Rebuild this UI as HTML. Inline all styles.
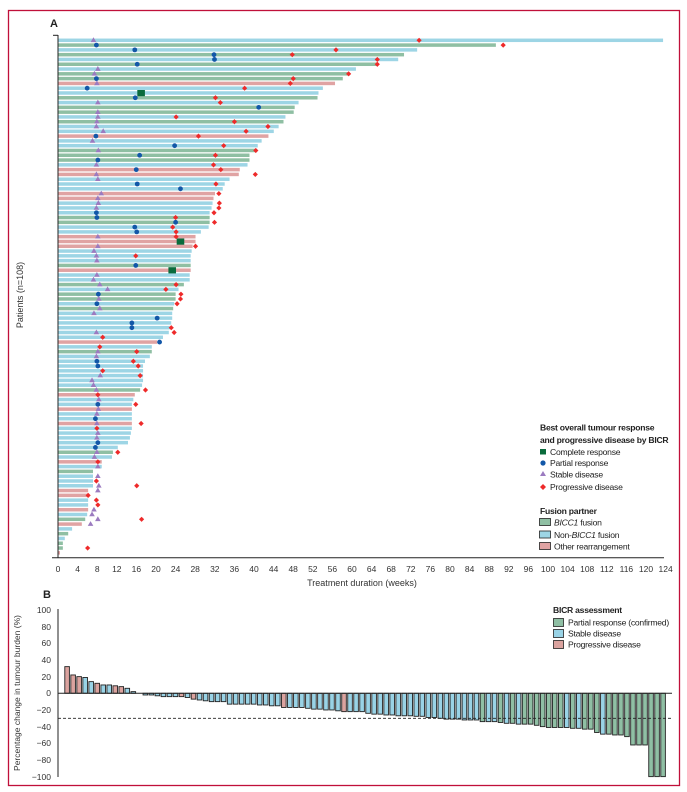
<!DOCTYPE html>
<html><head><meta charset="utf-8"><style>
html,body{margin:0;padding:0;background:#fff;}
svg{display:block;font-family:"Liberation Sans",sans-serif;}
</style></head><body>
<svg id="s" width="687" height="792" viewBox="0 0 687 792" xmlns="http://www.w3.org/2000/svg">
<rect x="8.5" y="10.5" width="671" height="775" fill="none" stroke="#c0103a" stroke-width="1.3"/>
<text x="50" y="27" font-size="11" font-weight="bold" fill="#222">A</text>
<text x="43" y="598" font-size="11" font-weight="bold" fill="#222">B</text>
<g id="A"></g>
<line x1="58" y1="35" x2="58" y2="558" stroke="#222" stroke-width="1"/>
<line x1="53" y1="35.3" x2="58" y2="35.3" stroke="#222" stroke-width="1"/>
<line x1="52" y1="557.7" x2="664" y2="557.7" stroke="#222" stroke-width="1"/>
<g id="xt" font-size="8.5" fill="#333" text-anchor="middle">
<text x="58" y="572">0</text><text x="77.6" y="572">4</text><text x="97.2" y="572">8</text><text x="116.8" y="572">12</text><text x="136.4" y="572">16</text><text x="156" y="572">20</text><text x="175.6" y="572">24</text><text x="195.2" y="572">28</text><text x="214.8" y="572">32</text><text x="234.4" y="572">36</text><text x="254" y="572">40</text><text x="273.6" y="572">44</text><text x="293.2" y="572">48</text><text x="312.8" y="572">52</text><text x="332.4" y="572">56</text><text x="352" y="572">60</text><text x="371.6" y="572">64</text><text x="391.2" y="572">68</text><text x="410.8" y="572">72</text><text x="430.4" y="572">76</text><text x="450" y="572">80</text><text x="469.6" y="572">84</text><text x="489.2" y="572">88</text><text x="508.8" y="572">92</text><text x="528.4" y="572">96</text><text x="548" y="572">100</text><text x="567.6" y="572">104</text><text x="587.2" y="572">108</text><text x="606.8" y="572">112</text><text x="626.4" y="572">116</text><text x="646" y="572">120</text><text x="665.6" y="572">124</text>
</g>
<text x="362" y="586" font-size="9" fill="#333" text-anchor="middle">Treatment duration (weeks)</text>
<text transform="translate(23,295) rotate(-90)" font-size="9" fill="#333" text-anchor="middle">Patients (n=108)</text>

<g font-size="8.6" fill="#222" letter-spacing="-0.25">
<text x="540" y="430.5" font-weight="bold">Best overall tumour response</text>
<text x="540" y="443" font-weight="bold">and progressive disease by BICR</text>
<rect x="540" y="449" width="6" height="5.5" fill="#0a6b3c"/>
<text x="550" y="455">Complete response</text>
<circle cx="543" cy="463" r="2.6" fill="#1257a8"/>
<text x="550" y="466">Partial response</text>
<polygon points="543,471 546,476 540,476" fill="#9b7bc0"/>
<text x="550" y="477.5">Stable disease</text>
<polygon points="543,484 546,487 543,490 540,487" fill="#ee2a2a"/>
<text x="550" y="490">Progressive disease</text>
<text x="540" y="514" font-weight="bold">Fusion partner</text>
<rect x="539.5" y="518.5" width="11" height="7" fill="#8fbfa3" stroke="#222" stroke-width="0.8"/>
<text x="554" y="525.5"><tspan font-style="italic">BICC1</tspan> fusion</text>
<rect x="539.5" y="531" width="11" height="7" fill="#9dd5e5" stroke="#222" stroke-width="0.8"/>
<text x="554" y="538">Non-<tspan font-style="italic">BICC1</tspan> fusion</text>
<rect x="539.5" y="542.5" width="11" height="7" fill="#e0a3a3" stroke="#222" stroke-width="0.8"/>
<text x="554" y="549.5">Other rearrangement</text>
</g>

<g id="B"></g>
<line x1="58" y1="609" x2="58" y2="777" stroke="#222" stroke-width="1"/>
<line x1="58" y1="693.3" x2="672" y2="693.3" stroke="#222" stroke-width="1"/>
<line x1="58" y1="718.3" x2="672" y2="718.3" stroke="#222" stroke-width="0.9" stroke-dasharray="3,2"/>
<g font-size="8.5" fill="#333" text-anchor="end">
<text x="51" y="613">100</text><text x="51" y="630">80</text><text x="51" y="646">60</text><text x="51" y="663">40</text><text x="51" y="680">20</text><text x="51" y="696">0</text><text x="51" y="713">−20</text><text x="51" y="730">−40</text><text x="51" y="746">−60</text><text x="51" y="763">−80</text><text x="51" y="780">−100</text>
</g>
<text transform="translate(20,693) rotate(-90)" font-size="8.5" fill="#333" text-anchor="middle">Percentage change in tumour burden (%)</text>
<g font-size="8.6" fill="#222" letter-spacing="-0.25">
<text x="553" y="613" font-weight="bold">BICR assessment</text>
<rect x="553.5" y="618.5" width="10" height="8" fill="#8fbfa4" stroke="#222" stroke-width="0.8"/>
<text x="568" y="625.5">Partial response (confirmed)</text>
<rect x="553.5" y="629.5" width="10" height="8" fill="#99d3e6" stroke="#222" stroke-width="0.8"/>
<text x="568" y="636.5">Stable disease</text>
<rect x="553.5" y="640.5" width="10" height="8" fill="#dba39f" stroke="#222" stroke-width="0.8"/>
<text x="568" y="647.5">Progressive disease</text>
</g>
</svg>
<script>
(function(){
var NS="http://www.w3.org/2000/svg";
function el(p,t,a){var e=document.createElementNS(NS,t);for(var k in a)e.setAttribute(k,a[k]);p.appendChild(e);return e;}
var C={g:"#8fbfa3",b:"#9dd5e5",r:"#e0a3a3"};
var rows=[
"b 124.5 t7.3 d74.3","g 90.1 c7.9 d91.6","b 73.9 c15.8 d57.2","g 71.2 c32.1 d48.2","b 70 c32.2 d65.7",
"g 65.7 c16.3 d65.7","b 61.3 t8.2","g 59.8 t7.5 d59.8","g 58.6 c7.9 d48.4","r 57 t8 d47.8",
"b 54.5 c6 d38.4","b 53.6 s17.1","g 53.4 c15.9 d32.4","b 49.5 t8.2 d33.4","g 48.7 c41.3",
"g 48.5 t8.2","b 46.8 t8.2 d24.3","g 46.4 t8 d36.3","b 45.4 t7.9 d43.2","b 44.4 t9.3 d38.7",
"r 43.3 c7.8 d28.9","b 41.9 t7.1","b 41.1 c24 d34.1","g 40.7 t8.3 d40.7","g 39.4 c16.8 d32.4",
"g 39.4 c8.2","b 39 t7.9 d32","r 37.4 c16.1 d33.5","r 37.2 t7.9 d40.6","b 35.3 t8.2",
"b 34.3 c16.3 d32.5","b 33.9 c25.2","r 32.3 t8.9 d33.1","r 32 t8.2","b 31.8 t8.3 d33.2",
"b 31.6 t7.9 d33.1","b 31.2 c7.9 d32.1","g 31.2 c8 d24.2","g 31.2 c24.2 d32.2","b 31 c15.8 d23.6",
"b 29.4 c16.2 d24.3","r 28.3 t8.2 d24.3","r 28.3 s25.2","r 27.7 t8.2 d28.3","b 27.5 t7.4",
"b 27.3 t7.9 d16","b 27.3 t8","g 27.3 c16","r 27.3 s23.5","b 27.1 t8",
"b 27.1 t7.3","g 25.9 t8.6 d24.3","b 24.8 t10.2 d22.2","g 24.2 c8.3 d25.3","g 24.2 t8.4 d25.2",
"b 23.9 c8 d24.5","g 23.7 t8.6","b 23.5 t7.4","b 23.5 c20.4","b 23.3 c15.2",
"b 23 c15.2 d23.3","b 22.8 t7.9 d23.9","b 21.6 d9.2","r 20.4 c20.9","b 19.3 d8.6",
"g 19.3 t8.2 d16.2","b 18.9 t7.9","b 17.9 c8 d15.5","b 17.5 c8.2 d16.5","b 17.5 d9.2",
"b 17.5 t8.7 d16.9","b 17.5 t7","b 17.3 t7.3","g 16.9 t7.9 d18","r 15.8 d8.2",
"b 15.5 t8.4","b 15.2 c8.2 d16","r 15.2 t8.3","b 15.2 t8","b 15.2 c7.7",
"r 15.2 t8 d17.1","b 15.2 d8","b 15 t8.2","b 14.8 t8","b 14.4 c8.2",
"b 12.3 c7.7","g 11.3 t8 d12.3","b 11.1 t7.5","r 9 d8.2","b 9 t8.2",
"g 7.2","b 7.2 t8.2","b 7.2 d7.9","b 7.2 t8.4 d16.2","r 6.2 t8.2",
"r 6.2 d6.2","b 6.2 d7.9","b 6.2 d8.2","r 6.2 t7.4","b 6 t7",
"g 5.6 t8.2 d17.2","r 4.9 t6.7","b 2.9","g 2.1","b 1.4",
"g 1","g 1 d6.1","r 0.4"];
var A=document.getElementById("A"),S=4.86,X0=58;
var marks=[];
rows.forEach(function(r,k){
 var p=r.split(" "),y=40.3+4.79*k;
 el(A,"rect",{x:X0,y:y-1.75,width:parseFloat(p[1])*S,height:3.5,fill:C[p[0]]});
 for(var i=2;i<p.length;i++)marks.push([p[i][0],X0+parseFloat(p[i].slice(1))*S,y]);
});
marks.forEach(function(m){
 var t=m[0],x=m[1],y=m[2];
 if(t=="c")el(A,"circle",{cx:x,cy:y,r:2.4,fill:"#1257a8"});
 else if(t=="t")el(A,"polygon",{points:x+","+(y-3)+" "+(x+2.8)+","+(y+1.8)+" "+(x-2.8)+","+(y+1.8),fill:"#9b7bc0"});
 else if(t=="d")el(A,"polygon",{points:x+","+(y-2.6)+" "+(x+2.6)+","+y+" "+x+","+(y+2.6)+" "+(x-2.6)+","+y,fill:"#ee2a2a"});
 else if(t=="s")el(A,"rect",{x:x-3.8,y:y-3,width:7.6,height:6.2,fill:"#0a6b3c"});
});
var BC={g:"#8fbfa4",b:"#99d3e6",r:"#dba39f"};
var bd="r32 r22 r20 b19 b14 r12 b10 b10 r9 r8 b6 b2 x0 b-2 b-2 b-3 b-4 b-4 b-4 r-4 b-5 r-7 b-8 b-9 b-10 b-10 b-10 b-13 b-13 b-13 b-13 b-13 b-14 b-14 b-15 b-15 r-17 b-17 b-17 b-17 b-18 b-19 b-19 b-20 b-20 b-21 r-22 b-22 b-22 b-22 b-24 b-25 b-25 b-26 b-26 b-27 b-27 b-27 b-27.6 b-27.6 b-29 b-29 b-30 b-31 b-31 b-31 b-32 b-32 b-32 g-34 b-34 b-34 g-35 b-36 g-36 b-37 g-37 g-37 g-38.4 g-40 g-41 g-41 g-41 b-41 g-42 b-42 g-43 g-43 g-47 b-49 g-49 g-50 g-50 g-52 g-62 g-62 g-62 g-100 g-100 g-100".split(" ");
var B=document.getElementById("B"),Y0=693.3,K=0.8333;
bd.forEach(function(s,i){
 if(s[0]=="x")return;
 var v=parseFloat(s.slice(1)),x=64.3+i*6.02,h=Math.abs(v)*K;
 el(B,"rect",{x:x+0.5,y:(v>=0?Y0-h:Y0),width:4.6,height:h,fill:BC[s[0]],stroke:"#222","stroke-width":0.9});
});
})();
</script>
</body></html>
